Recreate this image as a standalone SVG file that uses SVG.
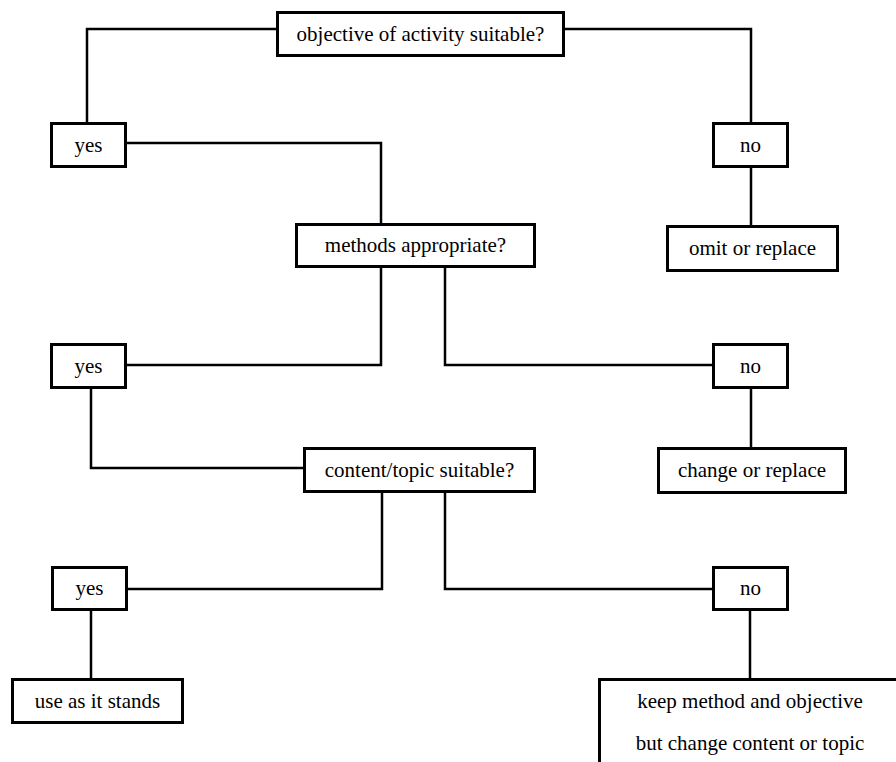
<svg xmlns="http://www.w3.org/2000/svg" width="896" height="762" viewBox="0 0 896 762">
<style>
.box{fill:#fff;stroke:#000;stroke-width:3}
.c{fill:none;stroke:#000;stroke-width:2.5}
.t{font-family:'Liberation Serif','Times New Roman',Times,'DejaVu Serif',serif;font-size:21px;fill:#000;text-anchor:middle}
</style>
<rect width="896" height="762" fill="#fff"/>
<g id="connectors">
<path class="c" d="M276,29 H87 V122"/>
<path class="c" d="M565,29 H751 V122"/>
<path class="c" d="M127,143 H381 V223"/>
<path class="c" d="M751,168 V225"/>
<path class="c" d="M381,268 V365 H127"/>
<path class="c" d="M445,268 V365 H712"/>
<path class="c" d="M751,389 V447"/>
<path class="c" d="M91,389 V468 H303"/>
<path class="c" d="M382,493 V589 H128"/>
<path class="c" d="M445,493 V589 H712"/>
<path class="c" d="M750,611 V678"/>
<path class="c" d="M91,611 V678"/>
</g>
<g id="objective"><rect class="box" x="277.5" y="12.5" width="286" height="43"/><text class="t" font-family="Liberation Serif, serif" x="420.5" y="41">objective of activity suitable?</text></g>
<g id="yes1"><rect class="box" x="51.5" y="123.5" width="74" height="43"/><text class="t" x="88.5" y="152">yes</text></g>
<g id="no1"><rect class="box" x="713.5" y="123.5" width="74" height="43"/><text class="t" x="750.5" y="152">no</text></g>
<g id="methods"><rect class="box" x="296.5" y="224.5" width="238" height="42"/><text class="t" x="415.5" y="252">methods appropriate?</text></g>
<g id="omit"><rect class="box" x="667.5" y="226.5" width="170" height="44"/><text class="t" x="752.5" y="255">omit or replace</text></g>
<g id="yes2"><rect class="box" x="51.5" y="344.5" width="74" height="43"/><text class="t" x="88.5" y="373">yes</text></g>
<g id="no2"><rect class="box" x="713.5" y="344.5" width="74" height="43"/><text class="t" x="750.5" y="373">no</text></g>
<g id="content"><rect class="box" x="304.5" y="448.5" width="230" height="43"/><text class="t" x="419.5" y="477">content/topic suitable?</text></g>
<g id="change"><rect class="box" x="658.5" y="448.5" width="187" height="44"/><text class="t" x="752" y="477">change or replace</text></g>
<g id="yes3"><rect class="box" x="52.5" y="567.5" width="74" height="42"/><text class="t" x="89.5" y="595">yes</text></g>
<g id="no3"><rect class="box" x="713.5" y="567.5" width="74" height="42"/><text class="t" x="750.5" y="595">no</text></g>
<g id="use"><rect class="box" x="12.5" y="679.5" width="170" height="43"/><text class="t" x="97.5" y="708">use as it stands</text></g>
<g id="keep"><rect class="box" x="599.5" y="679.5" width="400" height="200"/><text class="t" x="750" y="708">keep method and objective</text><text class="t" x="750" y="750">but change content or topic</text></g>
</svg>
